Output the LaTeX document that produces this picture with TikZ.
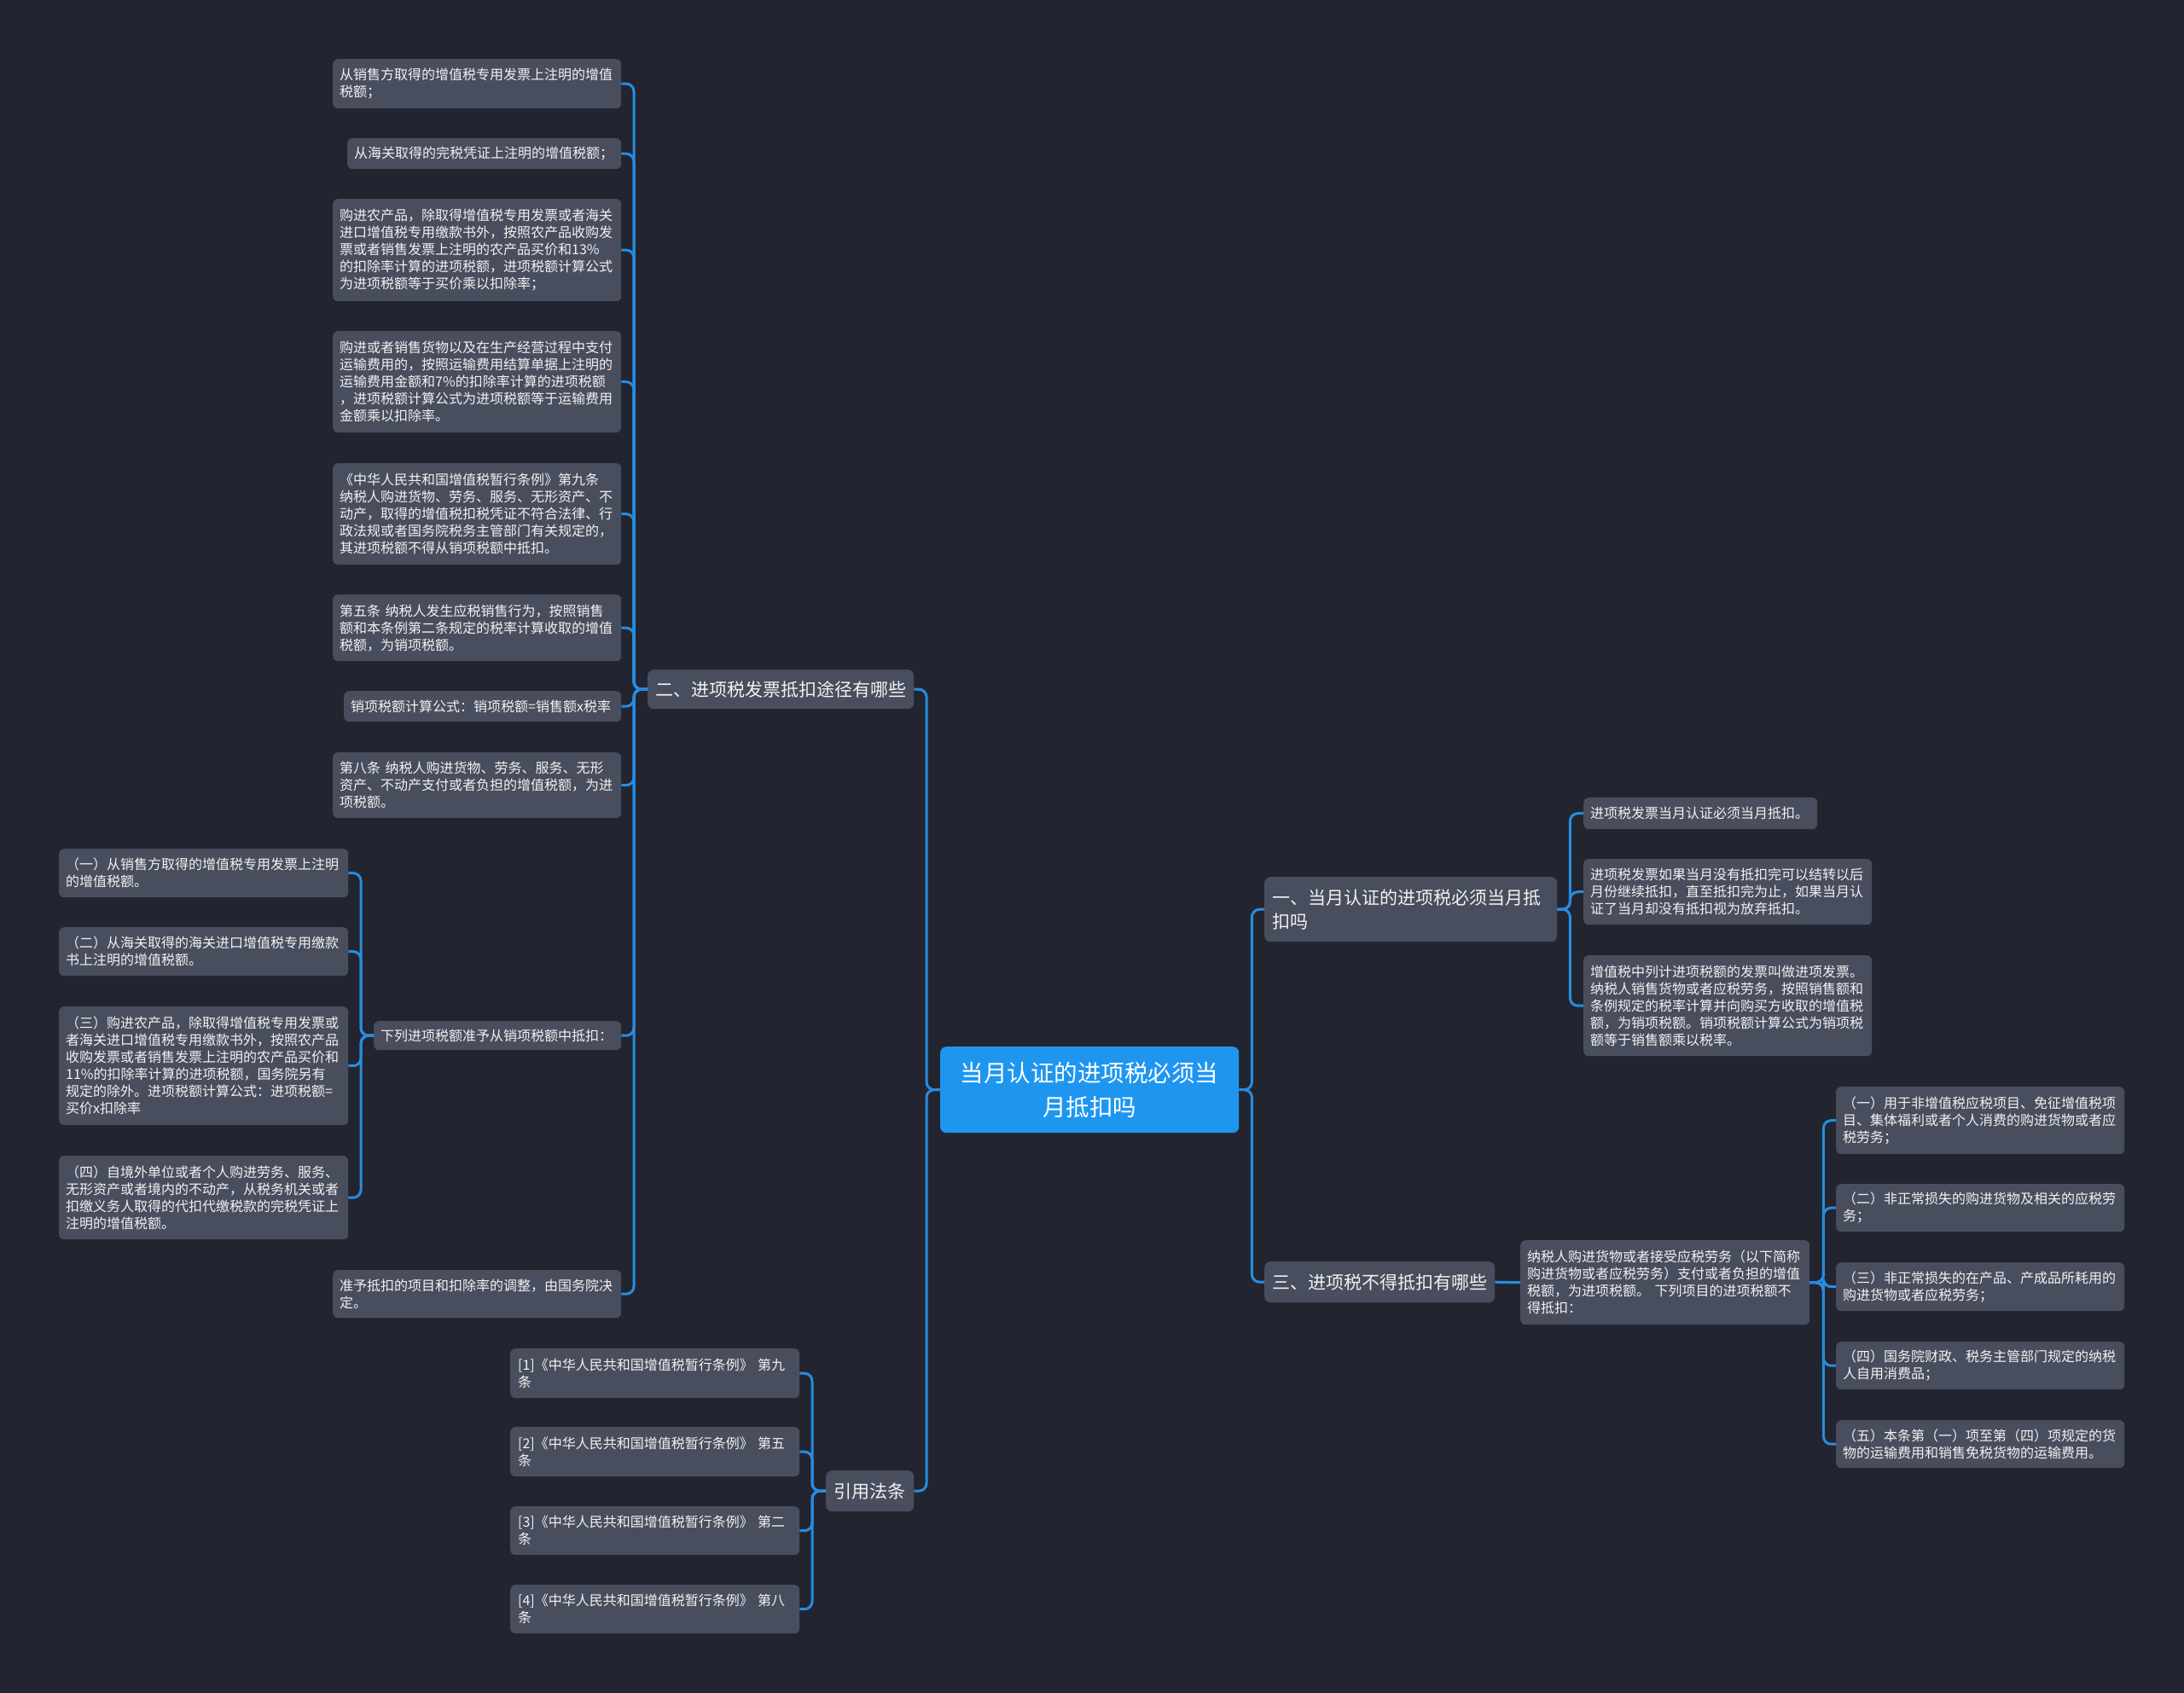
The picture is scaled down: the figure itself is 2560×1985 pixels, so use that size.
\documentclass[tikz,border=0pt]{standalone}
\usepackage{fontspec}
\setmainfont{Noto Sans CJK SC}
\definecolor{bgc}{HTML}{222530}
\definecolor{nodefill}{HTML}{494E5E}
\definecolor{linec}{HTML}{288CE1}
\definecolor{rootfill}{HTML}{1E96F0}
\definecolor{textc}{HTML}{F2F2F2}
\tikzset{
  leaf/.style={draw=none, fill=nodefill, rounded corners=6pt, text=textc, anchor=north west,
    inner xsep=8pt, inner ysep=0pt, align=left, font=\fontsize{16}{20}\selectfont},
  branch/.style={draw=none, fill=nodefill, rounded corners=7pt, text=textc, anchor=north west,
    inner xsep=9pt, inner ysep=0pt, align=left, font=\fontsize{21}{28}\selectfont},
  rootbox/.style={draw=none, fill=rootfill, rounded corners=7pt, text=white, anchor=north west,
    inner xsep=8pt, inner ysep=0pt, align=center, font=\fontsize{27.5}{40}\selectfont},
  conn/.style={draw=linec, line width=3pt, rounded corners=9pt},
}
\begin{document}
\begin{tikzpicture}[x=1pt,y=-1pt]
\useasboundingbox (0,0) rectangle (2560,1985);
\fill[bgc] (0,0) rectangle (2560,1985);

% root
\node[rootbox, minimum width=350, minimum height=101, text width=334] (root) at (1102,1227) {当月认证的进项税必须当\\月抵扣吗};

% left branch 2
\node[branch, minimum width=312, minimum height=46, text width=294] (b2) at (759,785) {二、进项税发票抵扣途径有哪些};
\node[leaf, minimum width=338, minimum height=58, text width=322] (a1) at (390,69) {从销售方取得的增值税专用发票上注明的增值\\税额；};
\node[leaf, minimum width=321, minimum height=36, text width=305] (a2) at (407,162) {从海关取得的完税凭证上注明的增值税额；};
\node[leaf, minimum width=338, minimum height=120, text width=322] (a3) at (390,233) {购进农产品，除取得增值税专用发票或者海关\\进口增值税专用缴款书外，按照农产品收购发\\票或者销售发票上注明的农产品买价和13\%\\的扣除率计算的进项税额，进项税额计算公式\\为进项税额等于买价乘以扣除率；};
\node[leaf, minimum width=338, minimum height=119, text width=322] (a4) at (390,388) {购进或者销售货物以及在生产经营过程中支付\\运输费用的，按照运输费用结算单据上注明的\\运输费用金额和7\%的扣除率计算的进项税额\\，进项税额计算公式为进项税额等于运输费用\\金额乘以扣除率。};
\node[leaf, minimum width=338, minimum height=119, text width=322] (a5) at (390,543) {《中华人民共和国增值税暂行条例》第九条\\纳税人购进货物、劳务、服务、无形资产、不\\动产，取得的增值税扣税凭证不符合法律、行\\政法规或者国务院税务主管部门有关规定的，\\其进项税额不得从销项税额中抵扣。};
\node[leaf, minimum width=338, minimum height=78, text width=322] (a6) at (390,697) {第五条 纳税人发生应税销售行为，按照销售\\额和本条例第二条规定的税率计算收取的增值\\税额，为销项税额。};
\node[leaf, minimum width=325, minimum height=36, text width=309] (a7) at (403,810) {销项税额计算公式：销项税额=销售额x税率};
\node[leaf, minimum width=338, minimum height=77, text width=322] (a8) at (390,882) {第八条 纳税人购进货物、劳务、服务、无形\\资产、不动产支付或者负担的增值税额，为进\\项税额。};
\node[leaf, minimum width=290, minimum height=34, text width=274] (a9) at (438,1197) {下列进项税额准予从销项税额中抵扣：};
\node[leaf, minimum width=338, minimum height=56, text width=322] (a10) at (390,1489) {准予抵扣的项目和扣除率的调整，由国务院决\\定。};

\node[leaf, minimum width=339, minimum height=57, text width=323] (l1) at (69,995) {（一）从销售方取得的增值税专用发票上注明\\的增值税额。};
\node[leaf, minimum width=339, minimum height=57, text width=323] (l2) at (69,1087) {（二）从海关取得的海关进口增值税专用缴款\\书上注明的增值税额。};
\node[leaf, minimum width=339, minimum height=139, text width=323] (l3) at (69,1180) {（三）购进农产品，除取得增值税专用发票或\\者海关进口增值税专用缴款书外，按照农产品\\收购发票或者销售发票上注明的农产品买价和\\11\%的扣除率计算的进项税额，国务院另有\\规定的除外。进项税额计算公式：进项税额=\\买价x扣除率};
\node[leaf, minimum width=339, minimum height=98, text width=323] (l4) at (69,1355) {（四）自境外单位或者个人购进劳务、服务、\\无形资产或者境内的不动产，从税务机关或者\\扣缴义务人取得的代扣代缴税款的完税凭证上\\注明的增值税额。};

% citations
\node[branch, minimum width=103, minimum height=48, text width=85] (cite) at (968,1724) {引用法条};
\node[leaf, minimum width=339, minimum height=58, text width=321, inner xsep=9pt] (c1) at (598,1581) {[1]《中华人民共和国增值税暂行条例》 第九\\条};
\node[leaf, minimum width=339, minimum height=58, text width=321, inner xsep=9pt] (c2) at (598,1673) {[2]《中华人民共和国增值税暂行条例》 第五\\条};
\node[leaf, minimum width=339, minimum height=57, text width=321, inner xsep=9pt] (c3) at (598,1766) {[3]《中华人民共和国增值税暂行条例》 第二\\条};
\node[leaf, minimum width=339, minimum height=57, text width=321, inner xsep=9pt] (c4) at (598,1858) {[4]《中华人民共和国增值税暂行条例》 第八\\条};

% right branch 1
\node[branch, minimum width=343, minimum height=76, text width=325] (b1) at (1482,1028) {一、当月认证的进项税必须当月抵\\扣吗};
\node[leaf, minimum width=274, minimum height=37, text width=258] (r1) at (1856,935) {进项税发票当月认证必须当月抵扣。};
\node[leaf, minimum width=338, minimum height=77, text width=322] (r2) at (1856,1007) {进项税发票如果当月没有抵扣完可以结转以后\\月份继续抵扣，直至抵扣完为止，如果当月认\\证了当月却没有抵扣视为放弃抵扣。};
\node[leaf, minimum width=338, minimum height=118, text width=322] (r3) at (1856,1120) {增值税中列计进项税额的发票叫做进项发票。\\纳税人销售货物或者应税劳务，按照销售额和\\条例规定的税率计算并向购买方收取的增值税\\额，为销项税额。销项税额计算公式为销项税\\额等于销售额乘以税率。};

% right branch 3
\node[branch, minimum width=270, minimum height=48, text width=252] (b3) at (1482,1479) {三、进项税不得抵扣有哪些};
\node[leaf, minimum width=339, minimum height=99, text width=323] (nn) at (1782,1454) {纳税人购进货物或者接受应税劳务（以下简称\\购进货物或者应税劳务）支付或者负担的增值\\税额，为进项税额。 下列项目的进项税额不\\得抵扣：};
\node[leaf, minimum width=338, minimum height=79, text width=322] (i1) at (2152,1274) {（一）用于非增值税应税项目、免征增值税项\\目、集体福利或者个人消费的购进货物或者应\\税劳务；};
\node[leaf, minimum width=338, minimum height=56, text width=322] (i2) at (2152,1388) {（二）非正常损失的购进货物及相关的应税劳\\务；};
\node[leaf, minimum width=338, minimum height=57, text width=322] (i3) at (2152,1480) {（三）非正常损失的在产品、产成品所耗用的\\购进货物或者应税劳务；};
\node[leaf, minimum width=338, minimum height=56, text width=322] (i4) at (2152,1573) {（四）国务院财政、税务主管部门规定的纳税\\人自用消费品；};
\node[leaf, minimum width=338, minimum height=56, text width=322] (i5) at (2152,1665) {（五）本条第（一）项至第（四）项规定的货\\物的运输费用和销售免税货物的运输费用。};

% connectors
\foreach \t in {b2,cite} \draw[conn] (root.west) -- ++(-16,0) |- (\t.east);
\foreach \t in {b1,b3} \draw[conn] (root.east) -- ++(15,0) |- (\t.west);
\foreach \t in {a1,a2,a3,a4,a5,a6,a7,a8,a9,a10} \draw[conn] (b2.west) -- ++(-16,0) |- (\t.east);
\foreach \t in {l1,l2,l3,l4} \draw[conn] (a9.west) -- ++(-15,0) |- (\t.east);
\foreach \t in {c1,c2,c3,c4} \draw[conn] (cite.west) -- ++(-16,0) |- (\t.east);
\foreach \t in {r1,r2,r3} \draw[conn] (b1.east) -- ++(15,0) |- (\t.west);
\draw[conn] (b3.east) -- (nn.west);
\foreach \t in {i1,i2,i3,i4,i5} \draw[conn] (nn.east) -- ++(16,0) |- (\t.west);
\end{tikzpicture}
\end{document}
